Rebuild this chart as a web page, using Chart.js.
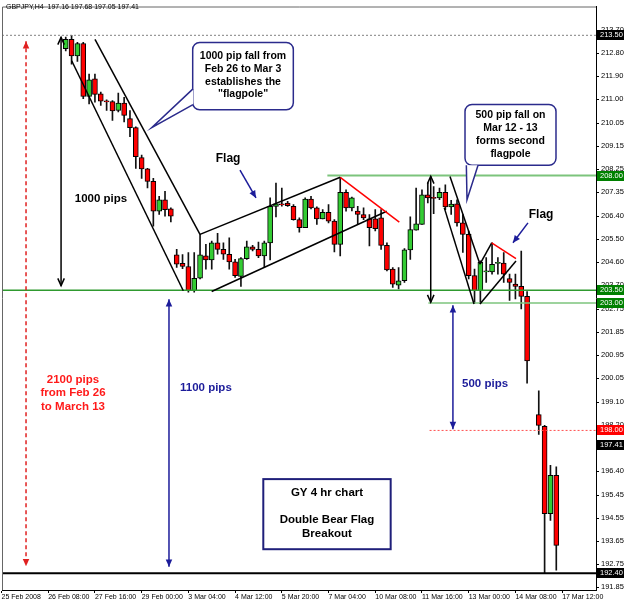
<!DOCTYPE html>
<html>
<head>
<meta charset="utf-8">
<script src="https://cdn.jsdelivr.net/npm/chart.js@4.4.1/dist/chart.umd.min.js"></script>
<style>
html, body { margin: 0; padding: 0; background: #fff; overflow: hidden; }
canvas { display: block; }
</style>
</head>
<body>
<canvas id="chart" width="625" height="603"></canvas>
<script>
// H4 bars, bar 0 = 25 Feb 2008 00:00 (Sunday 20:00 bars included)
var firstBar = 11;
var opens = [212.98, 213.34, 212.69, 213.18, 211.10, 211.79, 211.20, 210.91, 210.90, 210.55,
  210.84, 210.23, 209.88, 208.70, 208.26, 207.77, 206.60, 207.05, 206.69, 204.89,
  204.55, 204.43, 203.48, 203.97, 204.85, 204.69, 205.36, 205.10, 204.91, 204.61,
  204.04, 204.74, 205.20, 205.10, 204.85, 205.36, 206.79, 206.88, 206.92, 206.79,
  206.27, 205.95, 207.08, 206.73, 206.30, 206.56, 206.21, 205.30, 207.34, 206.73,
  206.60, 206.47, 206.30, 206.30, 206.34, 205.26, 204.33, 203.70, 203.87, 205.08,
  205.86, 206.08, 207.24, 207.12, 207.12, 207.34, 206.77, 206.89, 206.14, 205.69,
  204.07, 203.48, 204.22, 204.22, 204.55, 204.56, 203.96, 203.74, 203.65, 203.26,
  null, 198.62, 198.16, 194.73, 196.24];
var highs = [213.43, 213.50, 213.22, 213.22, 211.98, 211.98, 211.27, 210.97, 210.94, 211.23,
  211.07, 210.55, 209.91, 208.80, 208.28, 207.89, 207.18, 207.38, 206.73, 205.10,
  204.90, 204.98, 204.98, 205.69, 205.30, 205.43, 205.73, 205.36, 205.56, 204.71,
  204.78, 205.43, 205.26, 205.39, 205.43, 207.12, 207.70, 207.51, 206.99, 206.86,
  206.34, 207.12, 207.18, 206.77, 206.66, 206.86, 206.27, 207.93, 207.44, 207.15,
  206.79, 206.73, 206.47, 206.66, 206.66, 205.36, 204.39, 204.39, 205.13, 206.38,
  207.51, 207.44, 207.70, 207.57, 207.51, 207.63, 207.03, 207.05, 206.47, 205.82,
  204.33, 204.65, 204.78, 205.36, 204.78, 204.98, 204.13, 204.13, 205.04, 203.45,
  null, 199.55, 198.20, 196.63, 196.57];
var lows = [212.89, 212.37, 212.48, 211.01, 210.81, 210.88, 210.75, 210.55, 210.16, 210.49,
  210.10, 209.52, 208.28, 207.89, 207.51, 206.01, 206.47, 206.40, 206.18, 204.39,
  204.35, 203.42, 203.42, 203.94, 204.33, 204.33, 204.91, 204.71, 204.33, 204.00,
  203.65, 204.71, 205.04, 204.78, 204.39, 204.69, 206.38, 206.80, 206.79, 206.25,
  205.78, 205.95, 206.69, 206.08, 206.30, 206.14, 205.00, 204.85, 206.60, 206.61,
  206.08, 206.27, 205.24, 205.83, 205.10, 204.26, 203.61, 203.55, 203.81, 204.71,
  205.86, 206.08, 206.92, 206.50, 207.05, 206.66, 206.47, 206.01, 204.98, 203.94,
  202.99, 202.99, 203.81, 204.13, 204.13, 203.81, 203.10, 203.16, 202.77, 199.85,
  null, 197.84, 192.40, 194.47, 192.52];
var closes = [213.34, 212.69, 213.18, 211.10, 211.75, 211.18, 210.92, 210.89, 210.53, 210.84,
  210.36, 209.88, 208.74, 208.26, 207.77, 206.60, 207.05, 206.66, 206.40, 204.52,
  204.43, 203.48, 203.97, 204.89, 204.69, 205.36, 205.10, 204.91, 204.61, 204.07,
  204.74, 205.20, 205.10, 204.85, 205.36, 206.79, 206.89, 206.85, 206.82, 206.27,
  205.95, 207.08, 206.73, 206.30, 206.56, 206.21, 205.30, 207.34, 206.73, 207.12,
  206.47, 206.34, 205.95, 205.91, 205.26, 204.30, 203.74, 203.87, 205.08, 205.88,
  206.10, 207.24, 207.12, 207.10, 207.34, 206.77, 206.88, 206.14, 205.69, 204.07,
  203.48, 204.59, 204.24, 204.52, 204.56, 204.13, 203.81, 203.65, 203.26, 200.73,
  null, 198.20, 194.73, 196.24, 193.49];

var xTickBars = [0, 8, 16, 24, 32, 40, 48, 56, 64, 72, 80, 88, 96];
var xTickLabels = ['25 Feb 2008', '26 Feb 08:00', '27 Feb 16:00', '29 Feb 00:00', '3 Mar 04:00',
  '4 Mar 12:00', '5 Mar 20:00', '7 Mar 04:00', '10 Mar 08:00', '11 Mar 16:00',
  '13 Mar 00:00', '14 Mar 08:00', '17 Mar 12:00'];
var yTickValues = [213.70, 212.80, 211.90, 211.00, 210.05, 209.15, 208.25, 207.35, 206.40,
  205.50, 204.60, 203.70, 202.75, 201.85, 200.95, 200.05, 199.10, 198.20, 197.30,
  196.40, 195.45, 194.55, 193.65, 192.75, 191.85];
var markedLevels = [213.50, 208.00, 203.50, 203.00, 198.00, 197.41, 192.40];
var headerText = 'GBPJPY,H4  197.16 197.68 197.05 197.41';

// candles as floating bars: body [open, close], wick [low, high]
var bodies = [], wicks = [], bodyColors = [];
opens.forEach(function (o, k) {
  if (o === null) return;
  var bar = firstBar + k;
  bodies.push({ x: bar, y: [o, closes[k]] });
  wicks.push({ x: bar, y: [lows[k], highs[k]] });
  bodyColors.push(closes[k] >= o ? '#33cc33' : '#ff0000');
});

var navy = '#1c1c9a';
var levelStyles = [
  { from: null, color: '#808080', width: 1, dash: [2, 2], box: '#000000' },
  { from: 55.8, color: '#7cc47c', width: 2, dash: [], box: '#008000' },
  { from: null, color: '#2f9a2f', width: 1.5, dash: [], box: '#008000' },
  { from: 73.1, color: '#7cc47c', width: 1.5, dash: [], box: '#008000' },
  { from: 73.3, color: '#ff5050', width: 1, dash: [2, 2], box: '#ff0000' },
  { from: null, color: null, width: 0, dash: [], box: '#000000' },
  { from: null, color: '#000000', width: 2, dash: [], box: '#000000' }
];

// drawing objects, in bar / price units
var trendLines = [
  [12.02, 212.50, 31.13, 203.48, '#000'],
  [16.01, 213.34, 33.99, 205.69, '#000'],
  [33.99, 205.69, 58.01, 207.93, '#000'],
  [35.99, 203.45, 65.96, 206.60, '#000'],
  [58.01, 207.93, 68.12, 206.17, '#ff0000'],
  [76.80, 207.96, 81.93, 204.52, '#000'],
  [75.82, 206.73, 80.91, 202.96, '#000'],
  [81.93, 204.52, 83.94, 205.36, '#000'],
  [83.94, 205.36, 88.10, 204.74, '#ff0000'],
  [81.93, 202.96, 88.10, 204.65, '#000']
];
var arrows = [
  { x1: 10.2, y1: 213.42, x2: 10.2, y2: 203.68, color: '#000', both: true, open: true, dash: [] },
  { x1: 73.5, y1: 207.97, x2: 73.5, y2: 203.03, color: '#000', both: true, open: true, dash: [] },
  { x1: 28.68, y1: 203.15, x2: 28.68, y2: 192.65, color: navy, both: true, open: false, dash: [] },
  { x1: 77.3, y1: 202.91, x2: 77.3, y2: 198.05, color: navy, both: true, open: false, dash: [] },
  { x1: 4.2, y1: 213.27, x2: 4.2, y2: 192.67, color: '#e02020', both: true, open: false, dash: [4, 3] },
  { x1: 40.84, y1: 208.21, x2: 43.58, y2: 207.12, color: navy, both: false, open: false, dash: [] },
  { x1: 90.15, y1: 206.14, x2: 87.58, y2: 205.36, color: navy, both: false, open: false, dash: [] }
];
var labels = [
  { t: '1000 pips', x: 17.04, y: 207.08, color: '#000', size: 11.5 },
  { t: 'Flag', x: 38.8, y: 208.67, color: '#000', size: 12 },
  { t: 'Flag', x: 92.4, y: 206.45, color: '#000', size: 12 },
  { t: '2100 pips', x: 12.24, y: 200.0, color: '#ff1a1a', size: 11.5 },
  { t: 'from Feb 26', x: 12.24, y: 199.46, color: '#ff1a1a', size: 11.5 },
  { t: 'to March 13', x: 12.24, y: 198.92, color: '#ff1a1a', size: 11.5 },
  { t: '1100 pips', x: 35.0, y: 199.67, color: navy, size: 11.5 },
  { t: '500 pips', x: 82.8, y: 199.83, color: navy, size: 11.5 }
];
var callouts = [
  { x1: 32.74, x2: 49.97, y1: 213.22, y2: 210.58, tail: [[32.79, 211.40], [25.72, 209.88], [32.79, 210.78]],
    lines: ['1000 pip fall from', 'Feb 26 to Mar 3', 'establishes the', '"flagpole"'], top: 212.68, step: 0.5 },
  { x1: 79.37, x2: 94.95, y1: 210.79, y2: 208.40, tail: [[79.6, 208.40], [79.71, 207.05], [81.6, 208.40]],
    lines: ['500 pip fall on', 'Mar 12 - 13', 'forms second', 'flagpole'], top: 210.38, step: 0.515 }
];
var infoBox = { x1: 44.83, x2: 66.64, y1: 196.09, y2: 193.34,
  lines: [['GY 4 hr chart', 195.56], ['Double Bear Flag', 194.48], ['Breakout', 193.96]] };

function drawArrowHead(ctx, x1, y1, x2, y2, open) {
  var ang = Math.atan2(y2 - y1, x2 - x1), len = 8, hw = 0.42;
  ctx.beginPath();
  ctx.moveTo(x2 - len * Math.cos(ang - hw), y2 - len * Math.sin(ang - hw));
  ctx.lineTo(x2, y2);
  ctx.lineTo(x2 - len * Math.cos(ang + hw), y2 - len * Math.sin(ang + hw));
  if (open) { ctx.stroke(); } else { ctx.closePath(); ctx.fill(); }
}

var overlay = {
  id: 'overlay',
  afterDatasetsDraw: function (chart) {
    var ctx = chart.ctx, a = chart.chartArea, xs = chart.scales.x, ys = chart.scales.y;
    var X = function (v) { return xs.getPixelForValue(v); };
    var Y = function (v) { return ys.getPixelForValue(v); };
    ctx.save();
    ctx.beginPath();
    ctx.rect(a.left, a.top, a.right - a.left, a.bottom - a.top);
    ctx.clip();

    markedLevels.forEach(function (v, k) {
      var s = levelStyles[k];
      if (!s.color) return;
      ctx.strokeStyle = s.color;
      ctx.lineWidth = s.width;
      ctx.setLineDash(s.dash);
      ctx.beginPath();
      ctx.moveTo(s.from === null ? a.left : X(s.from), Y(v));
      ctx.lineTo(a.right, Y(v));
      ctx.stroke();
    });
    ctx.setLineDash([]);

    ctx.lineWidth = 1.5;
    trendLines.forEach(function (l) {
      ctx.strokeStyle = l[4];
      ctx.beginPath();
      ctx.moveTo(X(l[0]), Y(l[1]));
      ctx.lineTo(X(l[2]), Y(l[3]));
      ctx.stroke();
    });

    arrows.forEach(function (r) {
      var x1 = X(r.x1), y1 = Y(r.y1), x2 = X(r.x2), y2 = Y(r.y2);
      ctx.strokeStyle = r.color;
      ctx.fillStyle = r.color;
      ctx.lineWidth = 1.5;
      ctx.setLineDash(r.dash);
      ctx.beginPath();
      ctx.moveTo(x1, y1);
      ctx.lineTo(x2, y2);
      ctx.stroke();
      ctx.setLineDash([]);
      drawArrowHead(ctx, x1, y1, x2, y2, r.open);
      if (r.both) drawArrowHead(ctx, x2, y2, x1, y1, r.open);
    });

    ctx.textAlign = 'center';
    ctx.textBaseline = 'middle';
    labels.forEach(function (l) {
      ctx.fillStyle = l.color;
      ctx.font = 'bold ' + l.size + 'px "Liberation Sans", Arial, sans-serif';
      ctx.fillText(l.t, X(l.x), Y(l.y));
    });

    callouts.forEach(function (c) {
      var l = X(c.x1), r = X(c.x2), t = Y(c.y1), b = Y(c.y2), rad = 7;
      ctx.fillStyle = '#fff';
      ctx.strokeStyle = '#2b2b8c';
      ctx.lineWidth = 1.5;
      ctx.beginPath();
      ctx.roundRect(l, t, r - l, b - t, rad);
      ctx.fill();
      ctx.stroke();
      var p = c.tail.map(function (q) { return [X(q[0]), Y(q[1])]; });
      ctx.beginPath();
      ctx.moveTo(p[0][0], p[0][1]);
      ctx.lineTo(p[1][0], p[1][1]);
      ctx.lineTo(p[2][0], p[2][1]);
      ctx.closePath();
      ctx.fill();
      ctx.beginPath();
      ctx.moveTo(p[0][0], p[0][1]);
      ctx.lineTo(p[1][0], p[1][1]);
      ctx.lineTo(p[2][0], p[2][1]);
      ctx.stroke();
      ctx.fillStyle = '#000';
      ctx.font = 'bold 10.5px "Liberation Sans", Arial, sans-serif';
      c.lines.forEach(function (s, k) {
        ctx.fillText(s, (l + r) / 2, Y(c.top - k * c.step));
      });
    });

    var bl = X(infoBox.x1), br = X(infoBox.x2), bt = Y(infoBox.y1), bb = Y(infoBox.y2);
    ctx.fillStyle = '#fff';
    ctx.fillRect(bl, bt, br - bl, bb - bt);
    ctx.strokeStyle = '#1f1f7a';
    ctx.lineWidth = 2;
    ctx.strokeRect(bl, bt, br - bl, bb - bt);
    ctx.fillStyle = '#000';
    ctx.font = 'bold 11.5px "Liberation Sans", Arial, sans-serif';
    infoBox.lines.forEach(function (s) {
      ctx.fillText(s[0], (bl + br) / 2, Y(s[1]));
    });
    ctx.restore();
  },
  afterDraw: function (chart) {
    var ctx = chart.ctx, a = chart.chartArea, ys = chart.scales.y;
    ctx.save();
    ctx.strokeStyle = '#666';
    ctx.lineWidth = 1;
    ctx.beginPath();
    ctx.moveTo(a.left + 0.5, a.bottom);
    ctx.lineTo(a.left + 0.5, a.top + 0.5);
    ctx.lineTo(a.right, a.top + 0.5);
    ctx.stroke();

    ctx.font = '7.5px "Liberation Sans", Arial, sans-serif';
    ctx.textAlign = 'left';
    ctx.textBaseline = 'middle';
    markedLevels.forEach(function (v, k) {
      var y = Math.round(ys.getPixelForValue(v));
      ctx.fillStyle = levelStyles[k].box;
      ctx.fillRect(a.right + 1, y - 5, 27, 10);
      ctx.fillStyle = '#fff';
      ctx.fillText(v.toFixed(2), a.right + 4, y);
    });

    ctx.fillStyle = '#000';
    ctx.font = '7px "Liberation Sans", Arial, sans-serif';
    ctx.fillText(headerText, 6, 7);
    ctx.restore();
  }
};

var ctx = document.getElementById('chart').getContext('2d');
var chart = new Chart(ctx, {
  type: 'bar',
  data: {
    datasets: [{
      label: 'body',
      data: bodies,
      backgroundColor: bodyColors,
      borderColor: '#000',
      borderWidth: 1,
      borderSkipped: false,
      barThickness: 5,
      minBarLength: 1,
      grouped: false,
      order: 0
    }, {
      label: 'wick',
      data: wicks,
      backgroundColor: '#111',
      borderWidth: 0,
      barThickness: 1,
      grouped: false,
      order: 1
    }]
  },
  options: {
    responsive: false,
    animation: false,
    devicePixelRatio: 1,
    layout: { padding: { left: 2, top: 2, right: 0, bottom: 0 } },
    plugins: { legend: { display: false }, tooltip: { enabled: false } },
    scales: {
      x: {
        type: 'linear',
        offset: false,
        min: 0.086,
        max: 101.8,
        grid: { drawOnChartArea: false, tickLength: 3, color: '#000', offset: false },
        border: { color: '#000', width: 1 },
        afterBuildTicks: function (s) { s.ticks = xTickBars.map(function (v) { return { value: v }; }); },
        afterFit: function (s) { s.height = 13; },
        ticks: {
          callback: function (v, k) { return xTickLabels[k]; },
          align: 'start',
          padding: 0,
          maxRotation: 0,
          autoSkip: false,
          color: '#000',
          font: { family: '"Liberation Sans", Arial, sans-serif', size: 7 }
        }
      },
      y: {
        position: 'right',
        min: 191.74,
        max: 214.63,
        grid: { drawOnChartArea: false, tickLength: 3, color: '#000' },
        border: { color: '#000', width: 1 },
        afterBuildTicks: function (s) { s.ticks = yTickValues.map(function (v) { return { value: v }; }); },
        afterFit: function (s) { s.width = 29; },
        ticks: {
          callback: function (v) { return v.toFixed(2); },
          padding: 2,
          autoSkip: false,
          color: '#000',
          font: { family: '"Liberation Sans", Arial, sans-serif', size: 7.5 }
        }
      }
    }
  },
  plugins: [overlay]
});
</script>
</body>
</html>
